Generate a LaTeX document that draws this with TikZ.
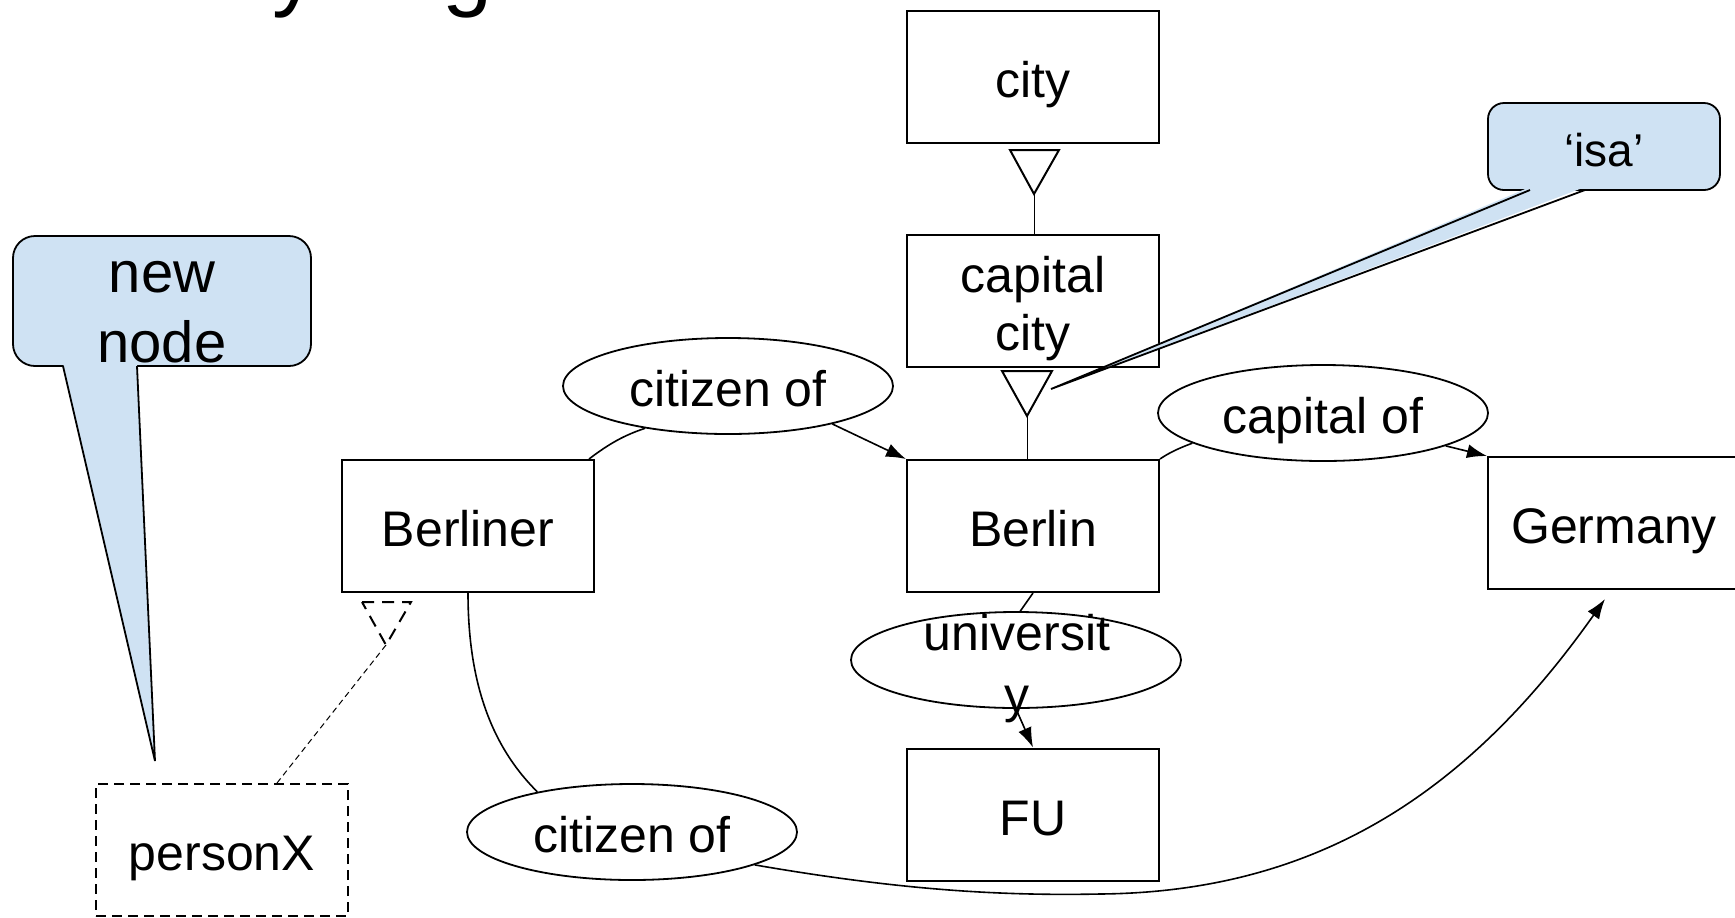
\documentclass[tikz,border=0pt]{standalone}
\usepackage{fontspec}
\setmainfont{Liberation Sans}
\usetikzlibrary{arrows.meta,shapes.geometric}
\definecolor{calloutblue}{HTML}{CFE2F3}

\begin{document}
\begin{tikzpicture}[x=0.5pt,y=-0.5pt,
  concept/.style={draw, line width=1pt, rectangle, minimum width=126pt,
    minimum height=66pt, inner sep=0pt, align=center,
    text height=20.5pt, text depth=0pt,
    font=\fontsize{25}{29}\selectfont},
  boxtext/.style={inner sep=0pt, align=center, font=\fontsize{25}{29}\selectfont},
  relation/.style={draw, line width=0.9pt, ellipse, minimum width=165pt,
    minimum height=48pt, inner sep=0pt, text height=20.5pt, text depth=0pt,
    font=\fontsize{25}{29}\selectfont},
  link/.style={line width=0.8pt},
  arrowlink/.style={link, -{Latex[length=10pt,width=7pt]}},
  isatri/.style={draw, line width=1pt, line join=miter},
  stem/.style={line width=0.5pt},
  callout/.style={fill=calloutblue, draw, line width=0.9pt},
  calloutedge/.style={draw, line width=0.9pt, line join=miter},
  titlefrag/.style={anchor=base west, inner sep=0pt, font=\fontsize{45}{50}\selectfont},
]
\useasboundingbox (0,0) rectangle (1735,917);

% heading, mostly above the top edge
\node[titlefrag] (titley) at (272,-1) {y};
\node[titlefrag] (titleg) at (442,-1) {g};

% concepts
\node[concept] (city) at (1033,76.5) {city};
\node[concept] (capcity) at (1033,301) {};
\node[boxtext] (capcitytext) at (1033,309) {capital\\city};
\node[concept] (berlin) at (1033,526) {Berlin};
\node[concept] (fu) at (1033,814.5) {FU};
\node[concept] (berliner) at (468,526) {Berliner};
\node[concept] (germany) at (1614,523) {Germany};
\node[concept, dash pattern=on 5pt off 3pt] (personx) at (222,850) {personX};

% relations
\node[relation] (cit1) at (728,386) {citizen of};
\node[relation] (capof) at (1323,413) {capital of};
\node[relation] (univ) at (1016,660) {};
\node[inner sep=0pt, align=center, font=\fontsize{25}{31}\selectfont]
  (univtext) at (1017,669) {universit\\y};
\node[relation] (cit2) at (632,832) {citizen of};

% isa triangles
\draw[isatri] (1010,150) -- (1059,150) -- (1034,194) -- cycle;
\coordinate (tri1) at (1034,194);
\draw[stem] (tri1) -- (tri1 |- capcity.north);

\draw[isatri] (1002,371) -- (1052,371) -- (1027,416) -- cycle;
\coordinate (tri2) at (1027,416);
\draw[stem] (tri2) -- (tri2 |- berlin.north);

\draw[isatri, dash pattern=on 6pt off 4pt] (362,602) -- (411,602) -- (386,645) -- cycle;
\coordinate (tri3) at (386,645);
\draw[stem, dash pattern=on 3pt off 2pt] (tri3) -- ([xshift=27.5pt]personx.north);

% relation links
\draw[link] ([xshift=-3pt]berliner.north east) .. controls (610,443) and (625,435) .. (cit1.207);
\draw[arrowlink] (cit1.-20) -- (berlin.north west);

\draw[link] (berlin.north east) .. controls (1170,452) and (1182,447) .. (capof.193);
\draw[arrowlink] (capof.-15) -- (germany.north west);

\draw[link] (berlin.south) -- (univ.85);
\draw[arrowlink] (univ.south) -- (fu.north);

\draw[link] (berliner.south) .. controls (468,680) and (490,745) .. (cit2.157);
\draw[arrowlink] (cit2.-15) .. controls (900,890) and (1000,896) .. (1100,894)
  .. controls (1320,892) and (1470,790) .. ([shift={(-4.5pt,-4.5pt)}]germany.south);

% callout: new node
\draw[callout, rounded corners=11pt] (13,236) rectangle (311,366);
\fill[calloutblue] (63,363) -- (155,761) -- (137,363) -- cycle;
\draw[calloutedge] (63,366) -- (155,761) -- (137,366);
\node[inner sep=0pt, align=center, font=\fontsize{29}{35}\selectfont]
  (newnode) at (162,312) {new\\node};

% callout: isa
\draw[callout, rounded corners=8pt] (1488,103) rectangle (1720,190);
\fill[calloutblue] (1530,187) -- (1051,389) -- (1585,187) -- cycle;
\draw[calloutedge] (1530,190) -- (1051,389) -- (1585,190);
\node[inner sep=0pt, font=\fontsize{23}{28}\selectfont] (isa) at (1604,150) {‘isa’};
\end{tikzpicture}
\end{document}
